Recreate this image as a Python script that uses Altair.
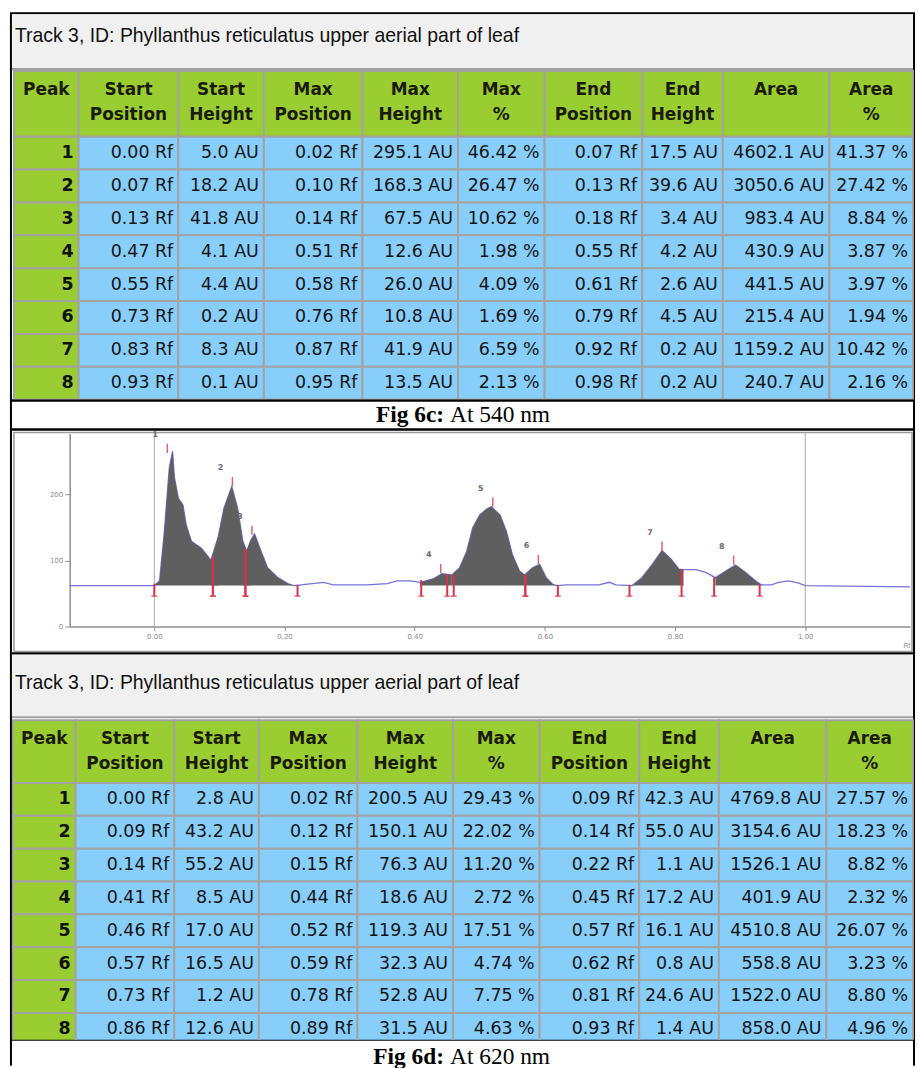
import altair as alt
import pandas as pd

peak_no = [1, 2, 3, 4, 5, 6, 7, 8]

# Peak table, detection at 540 nm (Fig 6c)
c_start_pos = [0.00, 0.07, 0.13, 0.47, 0.55, 0.73, 0.83, 0.93]
c_start_h = [5.0, 18.2, 41.8, 4.1, 4.4, 0.2, 8.3, 0.1]
c_max_pos = [0.02, 0.10, 0.14, 0.51, 0.58, 0.76, 0.87, 0.95]
c_max_h = [295.1, 168.3, 67.5, 12.6, 26.0, 10.8, 41.9, 13.5]
c_max_pct = [46.42, 26.47, 10.62, 1.98, 4.09, 1.69, 6.59, 2.13]
c_end_pos = [0.07, 0.13, 0.18, 0.55, 0.61, 0.79, 0.92, 0.98]
c_end_h = [17.5, 39.6, 3.4, 4.2, 2.6, 4.5, 0.2, 0.2]
c_area = [4602.1, 3050.6, 983.4, 430.9, 441.5, 215.4, 1159.2, 240.7]
c_area_pct = [41.37, 27.42, 8.84, 3.87, 3.97, 1.94, 10.42, 2.16]

# Peak table, detection at 620 nm (Fig 6d)
d_start_pos = [0.00, 0.09, 0.14, 0.41, 0.46, 0.57, 0.73, 0.86]
d_start_h = [2.8, 43.2, 55.2, 8.5, 17.0, 16.5, 1.2, 12.6]
d_max_pos = [0.02, 0.12, 0.15, 0.44, 0.52, 0.59, 0.78, 0.89]
d_max_h = [200.5, 150.1, 76.3, 18.6, 119.3, 32.3, 52.8, 31.5]
d_max_pct = [29.43, 22.02, 11.20, 2.72, 17.51, 4.74, 7.75, 4.63]
d_end_pos = [0.09, 0.14, 0.22, 0.45, 0.57, 0.62, 0.81, 0.93]
d_end_h = [42.3, 55.0, 1.1, 17.2, 16.1, 0.8, 24.6, 1.4]
d_area = [4769.8, 3154.6, 1526.1, 401.9, 4510.8, 558.8, 1522.0, 858.0]
d_area_pct = [27.57, 18.23, 8.82, 2.32, 26.07, 3.23, 8.80, 4.96]

track_title = "Track 3, ID: Phyllanthus reticulatus upper aerial part of leaf"
head_line1 = ["Peak", "Start", "Start", "Max", "Max", "Max", "End", "End", "Area", "Area"]
head_line2 = ["", "Position", "Height", "Position", "Height", "%", "Position", "Height", "", "%"]
caption_c = ("Fig 6c:", "At 540 nm")
caption_d = ("Fig 6d:", "At 620 nm")

# Densitogram scan at 620 nm: Rf position and raw signal (AU)
trace_rf = [-0.130, 0.000, 0.008, 0.015, 0.023, 0.028, 0.031, 0.037, 0.044, 0.049,
            0.057, 0.064, 0.072, 0.080, 0.087, 0.098, 0.107, 0.119, 0.128, 0.136,
            0.142, 0.148, 0.154, 0.164, 0.174, 0.190, 0.205, 0.214,
            0.225, 0.260, 0.275, 0.301, 0.327, 0.358, 0.373, 0.393, 0.408, 0.413,
            0.428, 0.442, 0.457, 0.469, 0.480, 0.489, 0.500, 0.511, 0.518, 0.531,
            0.541, 0.550, 0.561, 0.569, 0.581, 0.592, 0.602, 0.612, 0.619, 0.633, 0.683,
            0.699, 0.709, 0.734, 0.749, 0.765, 0.780, 0.794, 0.806, 0.813, 0.832,
            0.847, 0.862, 0.878, 0.893, 0.908, 0.924, 0.933, 0.948, 0.959, 0.974,
            0.989, 1.000, 1.161]
trace_au = [62, 62, 69, 139, 240, 265, 225, 194, 184, 154,
            129, 124, 119, 109, 100, 135, 179, 212, 179, 129,
            114, 130, 140, 114, 89, 74, 65, 62,
            63, 67, 63, 63, 63, 65, 69, 69, 67, 68,
            72, 80, 78, 89, 114, 149, 169, 178, 181, 169,
            144, 109, 84, 78, 89, 94, 74, 64, 62, 63, 63,
            67, 63, 62, 74, 94, 115, 102, 87, 86, 86,
            82, 74, 84, 93, 82, 69, 63, 63, 67, 69,
            66, 62, 60]
baseline_au = 62
rf_guides = [0.0, 1.0]

# ---------------- layout and style ----------------
PANEL_W = 907
GREEN = "#9acd32"
BLUE = "#87cefa"
GRID = "#a3a3a3"
RED = "#d8334c"
AX = "#8c8c8c"
CELL_FONT = "DejaVu Sans"
TITLE_FONT = "Liberation Sans"
SERIF = "Liberation Serif"
EDGES_C = [3, 68, 168, 254, 353, 449, 536, 634, 715, 822, 906]
EDGES_D = [2, 65, 164, 249, 348, 444, 531, 631, 711, 819, 906]


def fmt_rows(start_pos, start_h, max_pos, max_h, max_pct, end_pos, end_h, area, area_pct):
    rows = []
    for i in range(len(peak_no)):
        rows.append([
            str(peak_no[i]),
            f"{start_pos[i]:.2f} Rf", f"{start_h[i]:.1f} AU",
            f"{max_pos[i]:.2f} Rf", f"{max_h[i]:.1f} AU", f"{max_pct[i]:.2f} %",
            f"{end_pos[i]:.2f} Rf", f"{end_h[i]:.1f} AU",
            f"{area[i]:.1f} AU", f"{area_pct[i]:.2f} %",
        ])
    return rows


def table_panel(rows, edges, height, band_h, head_y0, head_y1, row_h, title_y):
    xs = alt.Scale(domain=[0, PANEL_W], nice=False, zero=False)
    ys = alt.Scale(domain=[0, height], reverse=True, nice=False, zero=False)

    def X(f):
        return alt.X(f, type="quantitative", scale=xs, axis=None)

    def Y(f):
        return alt.Y(f, type="quantitative", scale=ys, axis=None)

    band = pd.DataFrame({
        "x0": [1, 1], "x1": [PANEL_W - 1, PANEL_W - 1],
        "y0": [1, band_h], "y1": [band_h, band_h + 2],
        "fill": ["#f0f0f0", "#a0a0a0"],
    })
    cells, heads, peaks, values = [], [], [], []
    for c in range(len(head_line1)):
        cx = (edges[c] + edges[c + 1]) / 2
        cells.append(dict(x0=edges[c], x1=edges[c + 1], y0=head_y0, y1=head_y1, fill=GREEN))
        heads.append(dict(x=cx, y=head_y0 + 19, t=head_line1[c]))
        if head_line2[c]:
            heads.append(dict(x=cx, y=head_y0 + 44, t=head_line2[c]))
    for r, row in enumerate(rows):
        y0 = head_y1 + r * row_h
        for c, val in enumerate(row):
            cells.append(dict(x0=edges[c], x1=edges[c + 1], y0=y0, y1=y0 + row_h,
                              fill=GREEN if c == 0 else BLUE))
            item = dict(x=edges[c + 1] - 5, y=y0 + row_h / 2, t=val)
            (peaks if c == 0 else values).append(item)

    band_layer = alt.Chart(band).mark_rect().encode(
        x=X("x0"), x2="x1", y=Y("y0"), y2="y1", fill=alt.Fill("fill:N", scale=None))
    cell_layer = alt.Chart(pd.DataFrame(cells)).mark_rect(
        stroke=GRID, strokeWidth=2, clip=True).encode(
        x=X("x0"), x2="x1", y=Y("y0"), y2="y1", fill=alt.Fill("fill:N", scale=None))
    head_layer = alt.Chart(pd.DataFrame(heads)).mark_text(
        font=CELL_FONT, fontSize=17, fontWeight="bold", align="center",
        baseline="middle", color="#1b1b05").encode(x=X("x"), y=Y("y"), text="t:N")
    peak_layer = alt.Chart(pd.DataFrame(peaks)).mark_text(
        font=CELL_FONT, fontSize=17.5, fontWeight="bold", align="right",
        baseline="middle", color="#111111", clip=True).encode(x=X("x"), y=Y("y"), text="t:N")
    value_layer = alt.Chart(pd.DataFrame(values)).mark_text(
        font=CELL_FONT, fontSize=17.5, align="right", baseline="middle",
        color="#151515", clip=True).encode(x=X("x"), y=Y("y"), text="t:N")
    title_layer = alt.Chart(pd.DataFrame({"t": [track_title]})).mark_text(
        font=TITLE_FONT, fontSize=19.5, align="left", baseline="middle",
        color="#111111").encode(x=alt.value(4), y=alt.value(title_y), text="t:N")
    return alt.layer(band_layer, cell_layer, head_layer, peak_layer, value_layer,
                     title_layer).properties(width=PANEL_W, height=height)


def densitogram(height):
    xs = alt.Scale(domain=[-0.130, 1.161], range=[59, 903], nice=False, zero=False)
    ys = alt.Scale(domain=[0, 292], range=[198, 4], nice=False, zero=False)
    xaxis = alt.Axis(values=[0, 0.2, 0.4, 0.6, 0.8, 1.0], format=".2f", offset=-27,
                     grid=False, title="Rf", titleAnchor="end", titleFontSize=7,
                     titleFontWeight="normal", titleColor=AX, titlePadding=2,
                     labelFontSize=7, labelColor=AX, labelFont=CELL_FONT, labelPadding=2,
                     tickColor=AX, tickSize=4, domainColor=AX, domainWidth=1.5)
    yaxis = alt.Axis(values=[0, 100, 200], format="d", offset=-59, grid=False,
                     title=None, labelFontSize=7, labelColor=AX, labelFont=CELL_FONT,
                     labelPadding=2, tickColor=AX, tickSize=5, domainColor=AX,
                     domainWidth=1.5)

    def X(f):
        return alt.X(f, type="quantitative", scale=xs, axis=xaxis)

    def Y(f):
        return alt.Y(f, type="quantitative", scale=ys, axis=yaxis)

    trace = pd.DataFrame({"rf": trace_rf, "au": trace_au})

    # filled peak areas: trace points inside each peak's start/end window
    fill_rows = []
    for i in range(len(peak_no)):
        lo, hi = d_start_pos[i] - 0.008, d_end_pos[i] + 0.008
        for rf, au in zip(trace_rf, trace_au):
            if lo <= rf <= hi:
                fill_rows.append(dict(peak=peak_no[i], rf=rf, au=au, base=baseline_au))
    fills = pd.DataFrame(fill_rows)

    limits = pd.DataFrame({
        "rf": d_start_pos + d_end_pos,
        "top": [baseline_au + h for h in d_start_h + d_end_h],
        "bottom": [baseline_au - 16] * (2 * len(peak_no)),
    })
    maxima = pd.DataFrame({
        "peak": peak_no,
        "rf": d_max_pos,
        "top": [baseline_au + h for h in d_max_h],
        "tip": [baseline_au + h + 14 for h in d_max_h],
    })
    guides = pd.DataFrame({"rf": rf_guides, "lo": [0, 0], "hi": [292, 292]})

    frame = alt.Chart(pd.DataFrame({"f": [0]})).mark_rect(
        fill="transparent", stroke="#9a9a9a", strokeWidth=1.5).encode(
        x=alt.value(3), x2=alt.value(905), y=alt.value(3), y2=alt.value(223))
    guide_layer = alt.Chart(guides).mark_rule(color="#a8a8a8", strokeWidth=1).encode(
        x=X("rf"), y=Y("lo"), y2="hi")
    line_layer = alt.Chart(trace).mark_line(color="#7373dd", strokeWidth=1.3).encode(
        x=X("rf"), y=Y("au"))
    area_layer = alt.Chart(fills).mark_area(color="#5f5f5f", opacity=1).encode(
        x=X("rf"), y=Y("au"), y2="base", detail="peak:N")
    limit_layer = alt.Chart(limits).mark_rule(color=RED, strokeWidth=2).encode(
        x=X("rf"), y=Y("bottom"), y2="top")
    foot_layer = alt.Chart(limits).mark_tick(
        color=RED, orient="horizontal", size=6, thickness=1.5).encode(
        x=X("rf"), y=Y("bottom"))
    max_layer = alt.Chart(maxima).mark_rule(color="#e0607a", strokeWidth=1.5).encode(
        x=X("rf"), y=Y("top"), y2="tip")
    label_layer = alt.Chart(maxima).mark_text(
        font=CELL_FONT, fontSize=8, fontWeight="bold", color="#6a6a6a",
        dx=-12, dy=-18).encode(x=X("rf"), y=Y("top"), text="peak:N")
    return alt.layer(frame, guide_layer, line_layer, area_layer, limit_layer,
                     foot_layer, max_layer, label_layer).properties(
        width=PANEL_W, height=height)


def caption_panel(parts, height, base_y, side_lines=False):
    df = pd.DataFrame({"bold": [parts[0]], "rest": [parts[1]]})
    bold = alt.Chart(df).mark_text(
        font=SERIF, fontSize=23.5, fontWeight="bold", align="right",
        baseline="alphabetic", color="black").encode(
        x=alt.value(435), y=alt.value(base_y), text="bold:N")
    rest = alt.Chart(df).mark_text(
        font=SERIF, fontSize=23.5, align="left", baseline="alphabetic",
        color="black").encode(x=alt.value(441), y=alt.value(base_y), text="rest:N")
    layers = [bold, rest]
    if side_lines:
        edge = pd.DataFrame({"e": [0]})
        for xv in (0, PANEL_W):
            layers.append(alt.Chart(edge).mark_rule(color="black", strokeWidth=2).encode(
                x=alt.value(xv), y=alt.value(0), y2=alt.value(height)))
        return alt.layer(*layers).properties(
            width=PANEL_W, height=height,
            view=alt.ViewBackground(stroke="transparent"))
    return alt.layer(*layers).properties(width=PANEL_W, height=height)


rows_c = fmt_rows(c_start_pos, c_start_h, c_max_pos, c_max_h, c_max_pct,
                  c_end_pos, c_end_h, c_area, c_area_pct)
rows_d = fmt_rows(d_start_pos, d_start_h, d_max_pos, d_max_h, d_max_pct,
                  d_end_pos, d_end_h, d_area, d_area_pct)

t1 = table_panel(rows_c, EDGES_C, height=389, band_h=55, head_y0=58, head_y1=124,
                 row_h=33, title_y=23)
c1 = caption_panel(caption_c, height=29, base_y=22)
dens = densitogram(225)
t2 = table_panel(rows_d, EDGES_D, height=388, band_h=63, head_y0=67, head_y1=130,
                 row_h=33, title_y=30)
c2 = caption_panel(caption_d, height=26, base_y=24, side_lines=True)

chart = alt.vconcat(t1, c1, dens, t2, c2, spacing=0, bounds="flush").properties(
    padding={"left": 9, "top": 10, "right": 2, "bottom": 0},
    background="white",
).configure_view(stroke="black", strokeWidth=2)

chart.save("out.html", embed_options={"renderer": "svg", "actions": False})
